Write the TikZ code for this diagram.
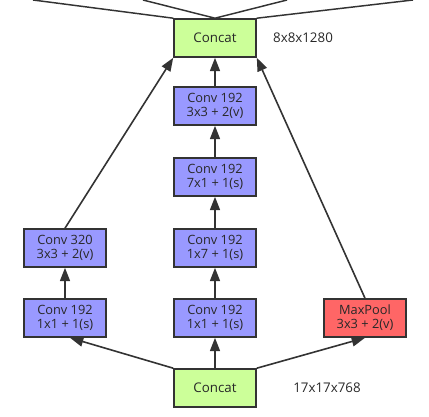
\documentclass[tikz,border=0pt]{standalone}
\usepackage{fontspec}
\setmainfont{Open Sans}
\usepackage{tikz}
\usetikzlibrary{arrows.meta, positioning}
\definecolor{ConvBlue}{RGB}{153,153,255}
\definecolor{CatGreen}{RGB}{204,255,153}
\definecolor{PoolRed}{RGB}{255,102,102}
\definecolor{EdgeGray}{RGB}{51,51,51}
\definecolor{TextGray}{RGB}{40,40,40}

\begin{document}
\begin{tikzpicture}[x=0.75pt, y=-0.75pt,
    box/.style={draw=EdgeGray, line width=1.2pt, minimum width=61.5pt,
                minimum height=28.5pt, inner sep=0pt, align=center,
                font=\fontsize{9.6}{10.6}\selectfont, text=TextGray},
    conv/.style={box, fill=ConvBlue},
    cat/.style={box, fill=CatGreen, font=\fontsize{10}{11}\selectfont},
    pool/.style={box, fill=PoolRed},
    flow/.style={draw=EdgeGray, line width=1.2pt, -{Triangle[length=10pt, width=7.5pt]}},
    line/.style={draw=EdgeGray, line width=1.1pt},
    dim/.style={font=\fontsize{10}{11}\selectfont, text=TextGray}]
  \useasboundingbox (0,0) rectangle (429,417);

  % Top concat and its outgoing lines
  \node[cat] (catTop) at (215,38) {Concat};
  \node[dim] (dimTop) at (303,38) {8x8x1280};
  \coordinate (outA) at (33,0);
  \coordinate (outB) at (143,0);
  \coordinate (outC) at (287,0);
  \coordinate (outD) at (413,0);
  \draw[line] (catTop.north west) -- (outA);
  \draw[line] (catTop.north) -- (outB);
  \draw[line] (catTop.north) -- (outC);
  \draw[line] (catTop.north east) -- (outD);

  % Middle branch
  \node[conv] (midD) at (215,106) {Conv 192\\3x3 + 2(v)};
  \node[conv] (midC) at (215,177) {Conv 192\\7x1 + 1(s)};
  \node[conv] (midB) at (215,248) {Conv 192\\1x7 + 1(s)};
  \node[conv] (midA) at (215,318) {Conv 192\\1x1 + 1(s)};

  % Left branch
  \node[conv] (leftB) at (65,248) {Conv 320\\3x3 + 2(v)};
  \node[conv] (leftA) at (65,318) {Conv 192\\1x1 + 1(s)};

  % Pool branch
  \node[pool] (pool) at (365,318) {MaxPool\\3x3 + 2(v)};

  % Bottom concat
  \node[cat] (catBot) at (215,388) {Concat};
  \node[dim] (dimBot) at (327,388) {17x17x768};

  % Arrows
  \draw[flow] (catBot.north west) -- ([xshift=3.75pt]leftA.south);
  \draw[flow] (catBot.north) -- (midA.south);
  \draw[flow] (catBot.north east) -- (pool.south);
  \draw[flow] (leftA) -- (leftB);
  \draw[flow] (midA) -- (midB);
  \draw[flow] (midB) -- (midC);
  \draw[flow] (midC) -- (midD);
  \draw[flow] (midD) -- (catTop);
  \draw[flow] (leftB.north) -- (catTop.south west);
  \draw[flow] (pool.north) -- (catTop.south east);
\end{tikzpicture}
\end{document}
